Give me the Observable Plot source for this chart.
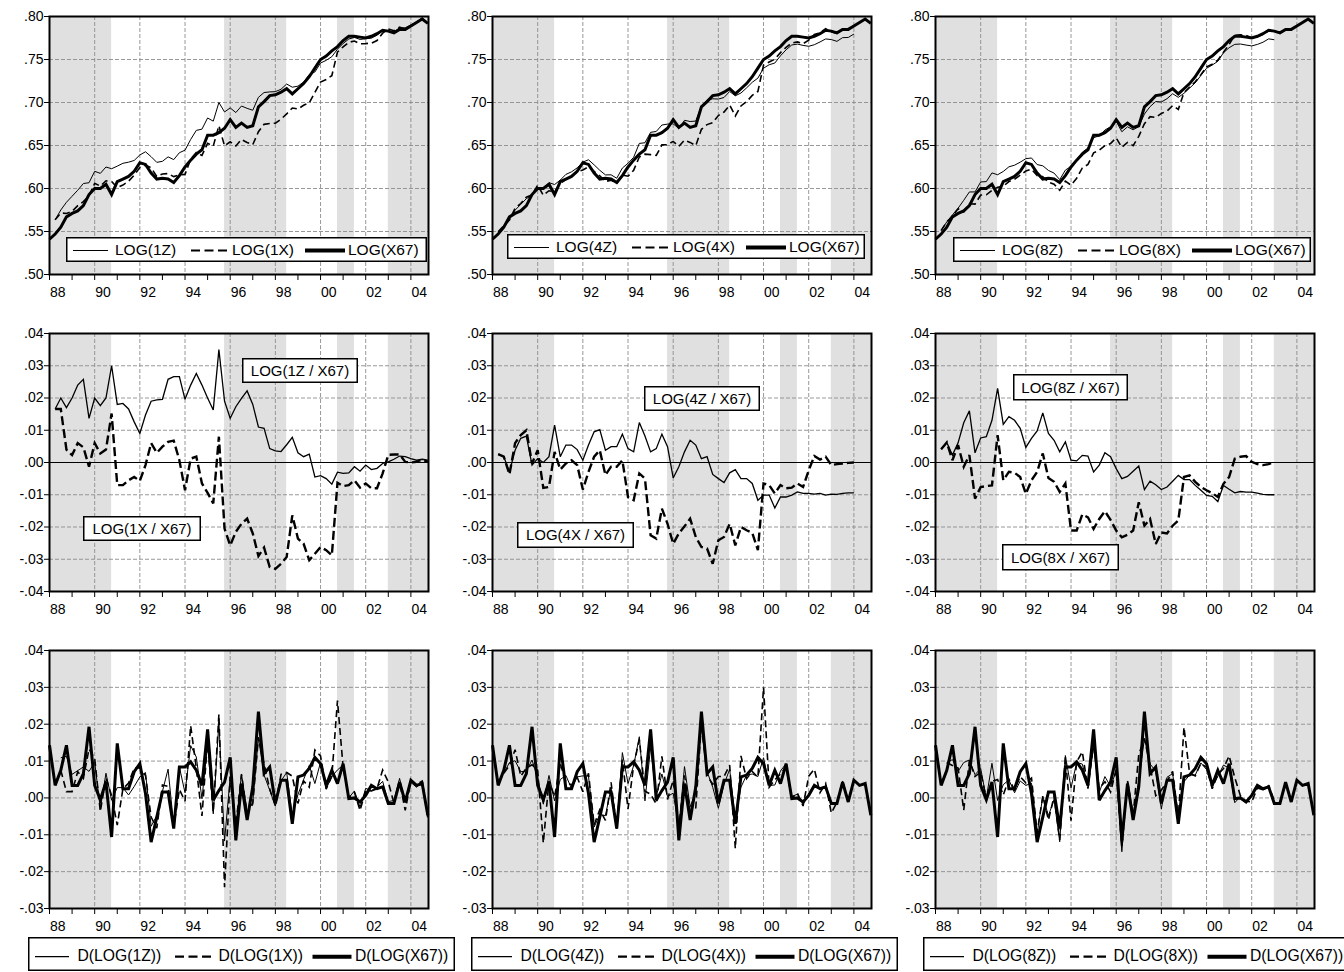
<!DOCTYPE html>
<html>
<head>
<meta charset="utf-8">
<script src="https://cdn.jsdelivr.net/npm/d3@7"></script>
<script src="https://cdn.jsdelivr.net/npm/@observablehq/plot@0.6"></script>
<style>
  html, body { margin: 0; padding: 0; background: #fff; }
  #fig { position: relative; width: 1344px; height: 972px; overflow: hidden; background: #fff;
         font-family: "Liberation Sans", Arial, sans-serif; }
</style>
</head>
<body>
<div id="fig"></div>
<script>
// ---------------- data ----------------
const QUARTERS = [
 "1988Q1","1988Q2","1988Q3","1988Q4","1989Q1","1989Q2","1989Q3","1989Q4",
 "1990Q1","1990Q2","1990Q3","1990Q4","1991Q1","1991Q2","1991Q3","1991Q4",
 "1992Q1","1992Q2","1992Q3","1992Q4","1993Q1","1993Q2","1993Q3","1993Q4",
 "1994Q1","1994Q2","1994Q3","1994Q4","1995Q1","1995Q2","1995Q3","1995Q4",
 "1996Q1","1996Q2","1996Q3","1996Q4","1997Q1","1997Q2","1997Q3","1997Q4",
 "1998Q1","1998Q2","1998Q3","1998Q4","1999Q1","1999Q2","1999Q3","1999Q4",
 "2000Q1","2000Q2","2000Q3","2000Q4","2001Q1","2001Q2","2001Q3","2001Q4",
 "2002Q1","2002Q2","2002Q3","2002Q4","2003Q1","2003Q2","2003Q3","2003Q4",
 "2004Q1","2004Q2","2004Q3","2004Q4"];

const SHADE_FROM = [1988.0, 1995.75, 2000.75, 2003.0];
const SHADE_TO   = [1990.75, 1998.5, 2001.5, 2004.78];

const YEAR_TICKS  = [1988,1989,1990,1991,1992,1993,1994,1995,1996,1997,1998,1999,2000,2001,2002,2003,2004];
const LABEL_YEARS = [1988,1990,1992,1994,1996,1998,2000,2002,2004];
const GRID_YEARS  = [1990,1992,1994,1996,1998,2000,2002,2004];
const LEVEL_TICKS = [0.50,0.55,0.60,0.65,0.70,0.75,0.80];
const RATIO_TICKS = [-0.04,-0.03,-0.02,-0.01,0.00,0.01,0.02,0.03,0.04];
const DIFF_TICKS  = [-0.03,-0.02,-0.01,0.00,0.01,0.02,0.03,0.04];

// levels
const LOG_X67 = [.541,.547,.555,.567,.571,.574,.580,.593,.600,.600,.605,.593,.608,.611,.614,.620,.630,.628,.618,.611,.612,.611,.607,.615,.625,.633,.640,.645,.662,.662,.665,.670,.680,.671,.676,.671,.673,.695,.701,.708,.709,.712,.716,.710,.716,.722,.730,.740,.750,.754,.760,.765,.772,.777,.777,.776,.775,.777,.780,.784,.783,.781,.785,.785,.789,.793,.797,.792];
const LOG_1Z = [null,.5636,.5750,.5840,.5910,.5980,.6058,.6067,.6200,.6176,.6250,.6230,.6260,.6293,.6306,.6326,.6390,.6427,.6370,.6304,.6316,.6368,.6336,.6416,.6446,.6570,.6676,.6690,.6820,.6783,.7000,.6890,.6937,.6883,.6959,.6932,.6910,.7060,.7116,.7123,.7126,.7154,.7215,.7178,.7190,.7238,.7326,.7355,.7459,.7490,.7533,.7620,.7686,.7738,.7757,.7733,.7742,.7748,.7782,.7837,.7832,.7820,.7870,.7868,.7902,.7937,.7980,.7927];
const LOG_1X = [null,.5636,.5716,.5710,.5733,.5800,.5847,.5917,.6060,.6028,.6090,.6082,.6010,.6040,.6085,.6155,.6243,.6272,.6240,.6140,.6169,.6174,.6138,.6157,.6164,.6342,.6418,.6385,.6526,.6493,.6730,.6495,.6543,.6495,.6570,.6536,.6510,.6660,.6746,.6756,.6760,.6806,.6867,.6936,.6924,.6968,.6997,.7117,.7238,.7268,.7312,.7587,.7647,.7700,.7715,.7682,.7685,.7690,.7720,.7806,.7854,.7835,.7875,.7852,.7890,.7932,.7979,.7922];
const LOG_4Z = [null,.5496,.5568,.5641,.5748,.5815,.5882,.5922,.6012,.6000,.6068,.6046,.6098,.6164,.6194,.6240,.6307,.6334,.6275,.6212,.6158,.6159,.6119,.6238,.6293,.6363,.6524,.6532,.6653,.6663,.6738,.6749,.6752,.6697,.6793,.6779,.6784,.6962,.7028,.7043,.7040,.7058,.7128,.7078,.7110,.7170,.7235,.7283,.7399,.7439,.7459,.7543,.7613,.7669,.7679,.7664,.7654,.7672,.7704,.7739,.7732,.7711,.7754,.7756,.7796,null,null,null];
const LOG_4X = [null,.5496,.5568,.5633,.5770,.5825,.5900,.5927,.6038,.5921,.5974,.5963,.6058,.6107,.6147,.6192,.6216,.6251,.6198,.6148,.6081,.6097,.6057,.6157,.6143,.6213,.6366,.6400,.6394,.6384,.6507,.6510,.6548,.6490,.6562,.6536,.6499,.6688,.6743,.6766,.6849,.6889,.6970,.6843,.6960,.7010,.7082,.7128,.7435,.7470,.7504,.7580,.7640,.7692,.7705,.7684,.7726,.7790,.7809,.7858,.7822,.7805,.7847,.7849,.7890,null,null,null];
const LOG_8Z = [null,.5511,.5612,.5693,.5771,.5863,.5960,.5960,.6076,.6080,.6181,.6160,.6198,.6252,.6271,.6306,.6347,.6355,.6278,.6264,.6210,.6179,.6103,.6214,.6257,.6335,.6422,.6470,.6591,.6612,.6680,.6718,.6781,.6660,.6717,.6683,.6719,.6866,.6952,.7011,.7006,.7044,.7102,.7060,.7107,.7167,.7229,.7314,.7398,.7435,.7479,.7579,.7637,.7676,.7680,.7668,.7658,.7675,.7701,.7740,.7730,null,null,null,null,null,null,null];
const LOG_8X = [null,.5511,.5612,.5677,.5764,.5727,.5823,.5818,.5924,.5927,.5979,.6015,.6025,.6081,.6108,.6155,.6203,.6225,.6151,.6138,.6072,.6050,.5979,.6085,.6039,.6119,.6239,.6280,.6414,.6445,.6499,.6522,.6589,.6478,.6536,.6499,.6607,.6754,.6835,.6827,.6873,.6900,.6964,.6920,.7115,.7180,.7240,.7324,.7414,.7445,.7493,.7584,.7675,.7782,.7788,.7780,.7752,.7765,.7792,.7835,.7832,null,null,null,null,null,null,null];

// log ratios to X67
const R_1Z = [null,.0166,.0200,.0170,.0200,.0240,.0258,.0137,.0200,.0176,.0200,.0300,.0180,.0183,.0166,.0126,.0090,.0147,.0190,.0194,.0196,.0258,.0266,.0266,.0196,.0240,.0276,.0240,.0200,.0163,.0350,.0190,.0137,.0173,.0199,.0222,.0180,.0110,.0106,.0043,.0036,.0034,.0055,.0078,.0030,.0018,.0026,-.0045,-.0041,-.0050,-.0067,-.0030,-.0034,-.0032,-.0013,-.0027,-.0008,-.0022,-.0018,-.0003,.0002,.0010,.0020,.0018,.0012,.0007,.0010,.0007];
const R_1X = [null,.0166,.0166,.0040,.0023,.0060,.0047,-.0013,.0060,.0028,.0040,.0152,-.0070,-.0070,-.0055,-.0045,-.0057,-.0008,.0060,.0030,.0049,.0064,.0068,.0007,-.0086,.0012,.0018,-.0065,-.0094,-.0127,.0080,-.0205,-.0257,-.0215,-.0190,-.0174,-.0220,-.0290,-.0264,-.0324,-.0330,-.0314,-.0293,-.0164,-.0236,-.0252,-.0303,-.0283,-.0262,-.0272,-.0288,-.0063,-.0073,-.0070,-.0055,-.0078,-.0065,-.0080,-.0080,-.0034,.0024,.0025,.0025,.0002,.0000,.0002,.0009,.0002];
const R_4Z = [null,.0026,.0018,-.0029,.0038,.0075,.0082,-.0008,.0012,.0000,.0018,.0116,.0018,.0054,.0054,.0040,.0007,.0054,.0095,.0102,.0038,.0049,.0049,.0088,.0043,.0033,.0124,.0082,.0033,.0043,.0088,.0049,-.0048,-.0013,.0033,.0069,.0054,.0012,.0018,-.0037,-.0050,-.0062,-.0032,-.0022,-.0050,-.0050,-.0065,-.0117,-.0101,-.0101,-.0141,-.0107,-.0107,-.0101,-.0091,-.0096,-.0096,-.0098,-.0096,-.0101,-.0098,-.0099,-.0096,-.0094,-.0094,null,null,null];
const R_4X = [null,.0026,.0018,-.0037,.0060,.0085,.0100,-.0003,.0038,-.0079,-.0076,.0033,-.0022,-.0003,.0007,-.0008,-.0084,-.0029,.0018,.0038,-.0039,-.0013,-.0013,.0007,-.0107,-.0117,-.0034,-.0050,-.0226,-.0236,-.0143,-.0190,-.0252,-.0220,-.0198,-.0174,-.0231,-.0262,-.0267,-.0314,-.0241,-.0231,-.0190,-.0257,-.0200,-.0210,-.0218,-.0272,-.0065,-.0070,-.0096,-.0070,-.0080,-.0078,-.0065,-.0076,-.0024,.0020,.0009,.0018,-.0008,-.0005,-.0003,-.0001,.0000,null,null,null];
const R_8Z = [null,.0041,.0062,.0023,.0061,.0123,.0160,.0030,.0076,.0080,.0131,.0230,.0118,.0142,.0131,.0106,.0047,.0075,.0098,.0154,.0090,.0069,.0033,.0064,.0007,.0005,.0022,.0020,-.0029,-.0008,.0030,.0018,-.0019,-.0050,-.0043,-.0027,-.0011,-.0084,-.0058,-.0069,-.0084,-.0076,-.0058,-.0040,-.0053,-.0053,-.0071,-.0086,-.0102,-.0105,-.0121,-.0071,-.0083,-.0094,-.0090,-.0092,-.0092,-.0095,-.0099,-.0100,-.0100,null,null,null,null,null,null,null];
const R_8X = [null,.0041,.0062,.0007,.0054,-.0013,.0023,-.0112,-.0076,-.0073,-.0071,.0085,-.0055,-.0029,-.0032,-.0045,-.0097,-.0055,-.0029,.0028,-.0048,-.0060,-.0091,-.0065,-.0211,-.0211,-.0161,-.0170,-.0206,-.0175,-.0151,-.0178,-.0211,-.0232,-.0224,-.0211,-.0123,-.0196,-.0175,-.0253,-.0217,-.0220,-.0196,-.0180,-.0045,-.0040,-.0060,-.0076,-.0086,-.0095,-.0107,-.0066,-.0045,.0012,.0018,.0020,.0002,-.0005,-.0008,-.0005,.0002,null,null,null,null,null,null,null];

// first differences of logs
const D_X67 = [.0143,.0034,.0075,.0143,.0034,.0034,.0066,.0193,.0034,-.0005,.0043,-.0106,.0148,.0025,.0025,.0071,.0093,.0012,-.0120,-.0052,.0016,.0016,-.0083,.0084,.0084,.0098,.0075,.0034,.0186,-.0006,.0020,.0043,.0110,-.0115,.0039,-.0060,.0030,.0234,.0066,.0084,-.0015,.0048,.0048,-.0070,.0057,.0062,.0080,.0110,.0093,.0034,.0075,.0039,.0093,-.0002,.0000,-.0011,.0007,.0034,.0025,.0030,-.0015,-.0015,.0043,-.0011,.0048,.0034,.0039,-.0047];
const D_1Z = [null,null,.0109,.0113,.0064,.0074,.0084,.0072,.0097,-.0029,.0067,-.0006,.0028,.0028,.0008,.0031,.0057,.0069,-.0077,-.0048,.0018,.0078,-.0075,.0084,.0014,.0142,.0111,-.0002,.0146,-.0043,.0207,-.0117,.0057,-.0079,.0065,-.0037,-.0012,.0164,.0062,.0021,-.0022,.0046,.0069,-.0047,.0009,.0050,.0088,.0039,.0097,.0025,.0058,.0076,.0089,.0000,.0019,-.0025,.0026,.0020,.0029,.0045,-.0010,-.0007,.0053,-.0013,.0042,.0029,.0042,-.0050];
const D_1X = [null,null,.0075,.0017,.0017,.0071,.0053,.0133,.0107,-.0037,.0055,.0006,-.0074,.0025,.0040,.0081,.0081,.0061,-.0052,-.0082,.0035,.0031,-.0079,.0023,-.0009,.0196,.0081,-.0049,.0157,-.0039,.0227,-.0242,.0058,-.0073,.0064,-.0044,-.0016,.0164,.0092,.0024,-.0021,.0064,.0069,.0059,-.0015,.0046,.0029,.0130,.0114,.0024,.0059,.0264,.0083,.0001,.0015,-.0034,.0020,.0019,.0025,.0076,.0043,-.0014,.0043,-.0034,.0046,.0036,.0046,-.0054];
const D_4Z = [null,null,.0067,.0096,.0101,.0071,.0073,.0103,.0054,-.0017,.0061,-.0008,.0050,.0061,.0025,.0057,.0060,.0059,-.0079,-.0045,-.0048,.0027,-.0083,.0123,.0039,.0088,.0166,-.0008,.0137,.0004,.0065,.0004,.0013,-.0080,.0085,-.0024,.0015,.0192,.0072,.0029,-.0028,.0036,.0078,-.0060,.0029,.0062,.0065,.0058,.0109,.0034,.0035,.0073,.0093,.0004,.0010,-.0016,.0007,.0032,.0027,.0025,-.0012,-.0016,.0046,-.0009,.0048,null,null,null];
const D_4X = [null,null,.0067,.0088,.0131,.0059,.0081,.0090,.0075,-.0122,.0046,.0003,.0093,.0044,.0035,.0056,.0017,.0067,-.0073,-.0032,-.0061,.0042,-.0083,.0104,-.0030,.0088,.0158,.0018,.0010,-.0016,.0113,-.0004,.0048,-.0083,.0061,-.0036,-.0027,.0203,.0061,.0037,.0058,.0058,.0089,-.0137,.0114,.0052,.0072,.0056,.0300,.0029,.0049,.0065,.0083,.0000,.0013,-.0022,.0059,.0078,.0014,.0039,-.0041,-.0012,.0045,-.0009,.0049,null,null,null];
const D_8Z = [null,null,.0096,.0104,.0072,.0096,.0103,.0063,.0080,-.0001,.0094,-.0007,.0036,.0049,.0014,.0046,.0034,.0040,-.0097,.0004,-.0048,-.0005,-.0119,.0115,.0027,.0096,.0092,.0032,.0137,.0015,.0058,.0031,.0073,-.0146,.0046,-.0044,.0046,.0161,.0092,.0073,-.0030,.0056,.0066,-.0052,.0044,.0062,.0062,.0095,.0077,.0031,.0059,.0089,.0081,-.0013,.0004,-.0013,.0007,.0031,.0021,.0029,-.0015,null,null,null,null,null,null,null];
const D_8X = [null,null,.0096,.0088,.0081,-.0033,.0102,.0058,.0070,-.0002,.0045,.0050,.0008,.0051,.0022,.0058,.0041,.0054,-.0094,.0005,-.0060,.0004,-.0114,.0110,-.0062,.0098,.0125,.0025,.0150,.0025,.0044,.0016,.0077,-.0136,.0047,-.0047,.0118,.0161,.0087,.0006,.0021,.0045,.0072,-.0054,.0192,.0067,.0060,.0094,.0083,.0025,.0063,.0080,.0114,.0055,.0006,-.0009,-.0011,.0027,.0022,.0033,-.0008,null,null,null,null,null,null,null];

// ---------------- drawing ----------------
const FONT = '"Liberation Sans", Arial, sans-serif';
const fig = document.getElementById("fig");
const T = QUARTERS.map(q => +q.slice(0, 4) + (+q.slice(5) - 1) / 4);
const shades = SHADE_FROM.map((s, i) => ({s, e: SHADE_TO[i]}));
const rowsOf = vals => T.map((t, i) => ({t, v: vals[i]})).filter(d => d.v != null);
const fmtY = d => { const s = d.toFixed(2); return s.startsWith("-") ? "-" + s.slice(2) : s.slice(1); };

const STYLES = {
  thin:  {strokeWidth: 1},
  dash:  {strokeWidth: 1.6, strokeDasharray: "7,4"},
  thick: {strokeWidth: 3},
  thin2: {strokeWidth: 1.3},
  dash2: {strokeWidth: 2.4, strokeDasharray: "9,4"}
};

const COL_LEFT = [0, 444, 887];
const COL_ML = [49, 48, 48];
const ROW_TOP = [0, 317, 634];
const PW = 379, PH = 258, MT = 16, MB = 30, MR = 8;

function panel(col, row, yDomain, yTicks, lines, zero) {
  const [lo, hi] = yDomain;
  const marks = [
    Plot.rect(shades, {x1: "s", x2: "e", y1: () => lo, y2: () => hi, fill: "#e0e0e0"}),
    Plot.ruleY(yTicks.filter(v => v > lo + 1e-9 && v < hi - 1e-9), {stroke: "#8c8c8c", strokeWidth: 0.9, strokeDasharray: "4,2"}),
    Plot.ruleX(GRID_YEARS, {stroke: "#8c8c8c", strokeWidth: 0.9, strokeDasharray: "4,2"})
  ];
  if (zero) marks.push(Plot.ruleY([0], {stroke: "#000", strokeWidth: 1.2}));
  for (const ln of lines) {
    marks.push(Plot.line(rowsOf(ln.v), {x: "t", y: "v", stroke: "#000", strokeLinejoin: "miter",
      strokeMiterlimit: 3, strokeLinecap: "butt", ...STYLES[ln.s]}));
  }
  marks.push(Plot.frame({stroke: "#000", strokeWidth: 2}));
  marks.push(Plot.text(LABEL_YEARS, {x: d => d, y: () => lo, text: d => String(d).slice(2),
    textAnchor: "start", dx: 0.5, dy: 18, fontSize: 14, fill: "#000"}));
  const svg = Plot.plot({
    width: COL_ML[col] + PW + MR,
    height: MT + PH + MB,
    marginLeft: COL_ML[col], marginRight: MR, marginTop: MT, marginBottom: MB,
    style: {fontFamily: FONT, fontSize: "14px", background: "transparent", overflow: "visible", color: "#000"},
    x: {domain: [1988, 2004.78], ticks: YEAR_TICKS, tickFormat: () => "", tickSize: 6, label: null},
    y: {domain: [lo, hi], ticks: yTicks, tickFormat: fmtY, tickSize: 5, tickPadding: 1, label: null},
    marks
  });
  svg.style.position = "absolute";
  svg.style.left = COL_LEFT[col] + "px";
  svg.style.top = ROW_TOP[row] + "px";
  fig.appendChild(svg);
}

const LEVELS = [[LOG_1Z, LOG_1X], [LOG_4Z, LOG_4X], [LOG_8Z, LOG_8X]];
const RATIOS = [[R_1Z, R_1X], [R_4Z, R_4X], [R_8Z, R_8X]];
const DIFFS  = [[D_1Z, D_1X], [D_4Z, D_4X], [D_8Z, D_8X]];
for (let c = 0; c < 3; c++) {
  panel(c, 0, [0.50, 0.80], LEVEL_TICKS,
    [{v: LEVELS[c][0], s: "thin"}, {v: LEVELS[c][1], s: "dash"}, {v: LOG_X67, s: "thick"}], false);
  panel(c, 1, [-0.04, 0.04], RATIO_TICKS,
    [{v: RATIOS[c][0], s: "thin2"}, {v: RATIOS[c][1], s: "dash2"}], true);
  panel(c, 2, [-0.03, 0.04], DIFF_TICKS,
    [{v: DIFFS[c][0], s: "thin"}, {v: DIFFS[c][1], s: "dash"}, {v: D_X67, s: "thick"}], false);
}

// ---------------- boxes: legends and labels ----------------
function box(left, top, w, h) {
  const s = d3.select(fig).append("svg")
    .style("position", "absolute").style("left", left + "px").style("top", top + "px")
    .style("overflow", "visible").attr("width", w).attr("height", h);
  s.append("rect").attr("x", 0.75).attr("y", 0.75).attr("width", w - 1.5).attr("height", h - 1.5)
    .attr("fill", "#fff").attr("stroke", "#000").attr("stroke-width", 1.5);
  return s;
}
const SAMPLE = {
  thin:  {w: 1.2, dash: null},
  dash:  {w: 2.2, dash: "9,4.5"},
  thick: {w: 4, dash: null}
};
function legend(left, top, w, h, lineY, textY, size, items) {
  const s = box(left, top, w, h);
  for (const it of items) {
    const st = SAMPLE[it.s];
    s.append("line").attr("x1", it.x1).attr("x2", it.x2).attr("y1", lineY).attr("y2", lineY)
      .attr("stroke", "#000").attr("stroke-width", st.w).attr("stroke-dasharray", st.dash);
    s.append("text").attr("x", it.tx).attr("y", textY).attr("dy", "0.36em")
      .attr("font-family", FONT).attr("font-size", size).attr("fill", "#000").text(it.label);
  }
}
function label(left, top, w, h, text) {
  const s = box(left, top, w, h);
  s.append("text").attr("x", w / 2).attr("y", h / 2).attr("dy", "0.36em").attr("text-anchor", "middle")
    .attr("font-family", FONT).attr("font-size", 15).attr("fill", "#000").text(text);
}

const KEYS = ["1", "4", "8"];
const TOP_LEG = [[66, 236.5, 361], [507, 233.5, 358], [953, 237, 358]];
TOP_LEG.forEach(([l, t, w], c) => {
  legend(l, t, w, 25, 13.5, 12.3, 15.5, [
    {s: "thin",  x1: 7,   x2: 42,  tx: 49,  label: `LOG(${KEYS[c]}Z)`},
    {s: "dash",  x1: 125, x2: 162, tx: 166, label: `LOG(${KEYS[c]}X)`},
    {s: "thick", x1: 239, x2: 279, tx: 282, label: "LOG(X67)"}
  ]);
});

const BOT_LEG = [28, 471, 923];
BOT_LEG.forEach((l, c) => {
  legend(l, 937, 427, 34, 19.7, 18.6, 15.7, [
    {s: "thin",  x1: 7,     x2: 41,    tx: 49.5, label: `D(LOG(${KEYS[c]}Z))`},
    {s: "dash",  x1: 147,   x2: 185,   tx: 190.5, label: `D(LOG(${KEYS[c]}X))`},
    {s: "thick", x1: 284.5, x2: 323.5, tx: 327, label: "D(LOG(X67))"}
  ]);
});

label(242, 358, 116, 25, "LOG(1Z / X67)");
label(83, 516, 118, 25, "LOG(1X / X67)");
label(644, 385.5, 116, 25, "LOG(4Z / X67)");
label(517, 522, 117, 26, "LOG(4X / X67)");
label(1013, 373.5, 115, 26.5, "LOG(8Z / X67)");
label(1002, 543.5, 117, 26.5, "LOG(8X / X67)");
</script>
</body>
</html>
